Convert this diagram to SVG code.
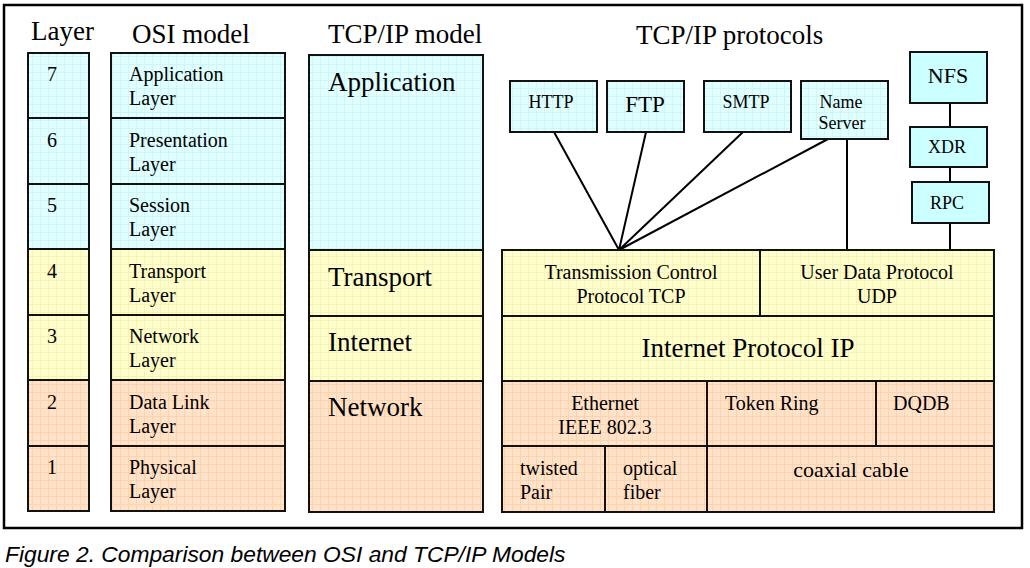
<svg xmlns="http://www.w3.org/2000/svg" width="1030" height="568" viewBox="0 0 1030 568">
<defs>
<pattern id="gc" patternUnits="userSpaceOnUse" width="8" height="8"><path d="M0 0H8V8H0Z" fill="#e0ffff"/><path d="M0 0.5H8M0.5 0V8" stroke="#cff5fa" stroke-width="1"/></pattern>
<pattern id="gy" patternUnits="userSpaceOnUse" width="8" height="8"><path d="M0 0H8V8H0Z" fill="#ffffcc"/><path d="M0 0.5H8M0.5 0V8" stroke="#f7f2b8" stroke-width="1"/></pattern>
<pattern id="gp" patternUnits="userSpaceOnUse" width="8" height="8"><path d="M0 0H8V8H0Z" fill="#ffe2c8"/><path d="M0 0.5H8M0.5 0V8" stroke="#fcd3ae" stroke-width="1"/></pattern>
</defs>
<style>
.box{stroke:#111;stroke-width:2}
.c{fill:url(#gc)}.y{fill:url(#gy)}.p{fill:url(#gp)}.s{fill:#ccffff}
text{font-family:"Liberation Serif","Times New Roman",serif;fill:#000}
.h{font-size:27px}.m{font-size:20px}.b{font-size:27px}.k{font-size:18px}
.mid{text-anchor:middle}
.cap{font-family:"Liberation Sans",Arial,sans-serif;font-style:italic;font-size:22.8px}
#frame{fill:none;stroke:#000;stroke-width:2.5}
.ln{stroke:#000;stroke-width:2;fill:none}
</style>
<rect id="frame" x="4" y="5" width="1018" height="523"/>
<g id="headings">
<text class="h" x="31" y="40">Layer</text>
<text class="h" x="132" y="43">OSI model</text>
<text class="h" x="328" y="43">TCP/IP model</text>
<text class="h" x="636" y="44">TCP/IP protocols</text>
</g>
<g id="layer-col">
<g id="L7"><rect class="box c" x="28" y="53" width="61" height="65"/><text class="m" x="47" y="81">7</text></g>
<g id="L6"><rect class="box c" x="28" y="118" width="61" height="66"/><text class="m" x="47" y="147">6</text></g>
<g id="L5"><rect class="box c" x="28" y="184" width="61" height="65"/><text class="m" x="47" y="212">5</text></g>
<g id="L4"><rect class="box y" x="28" y="249" width="61" height="66"/><text class="m" x="47" y="278">4</text></g>
<g id="L3"><rect class="box y" x="28" y="315" width="61" height="65"/><text class="m" x="47" y="343">3</text></g>
<g id="L2"><rect class="box p" x="28" y="380" width="61" height="66"/><text class="m" x="47" y="409">2</text></g>
<g id="L1"><rect class="box p" x="28" y="446" width="61" height="65"/><text class="m" x="47" y="474">1</text></g>
</g>
<g id="osi-col">
<g id="osi7"><rect class="box c" x="111" y="53" width="174" height="65"/><text class="m" x="129" y="81">Application</text><text class="m" x="129" y="105">Layer</text></g>
<g id="osi6"><rect class="box c" x="111" y="118" width="174" height="66"/><text class="m" x="129" y="147">Presentation</text><text class="m" x="129" y="171">Layer</text></g>
<g id="osi5"><rect class="box c" x="111" y="184" width="174" height="65"/><text class="m" x="129" y="212">Session</text><text class="m" x="129" y="236">Layer</text></g>
<g id="osi4"><rect class="box y" x="111" y="249" width="174" height="66"/><text class="m" x="129" y="278">Transport</text><text class="m" x="129" y="302">Layer</text></g>
<g id="osi3"><rect class="box y" x="111" y="315" width="174" height="65"/><text class="m" x="129" y="343">Network</text><text class="m" x="129" y="367">Layer</text></g>
<g id="osi2"><rect class="box p" x="111" y="380" width="174" height="66"/><text class="m" x="129" y="409">Data Link</text><text class="m" x="129" y="433">Layer</text></g>
<g id="osi1"><rect class="box p" x="111" y="446" width="174" height="65"/><text class="m" x="129" y="474">Physical</text><text class="m" x="129" y="498">Layer</text></g>
</g>
<g id="tcpip-col">
<g id="t-app"><rect class="box c" x="309" y="55" width="174" height="195"/><text class="b" x="328" y="91">Application</text></g>
<g id="t-trans"><rect class="box y" x="309" y="250" width="174" height="66"/><text class="b" x="328" y="286">Transport</text></g>
<g id="t-inet"><rect class="box y" x="309" y="316" width="174" height="65"/><text class="b" x="328" y="351">Internet</text></g>
<g id="t-net"><rect class="box p" x="309" y="381" width="174" height="131"/><text class="b" x="328" y="416">Network</text></g>
</g>
<g id="connectors">
<path class="ln" d="M554 132L619 250M646 132L619 250M743 132L619 250M828 139L619 250M847 139V250M950 103V127M950 167V182M950 223V250"/>
</g>
<g id="HTTP"><rect class="box c" x="510" y="81" width="87" height="51"/><text class="k mid" x="551" y="108">HTTP</text></g>
<g id="FTP"><rect class="box c" x="607" y="81" width="77" height="51"/><text class="mid" style="font-size:23px" x="645" y="112">FTP</text></g>
<g id="SMTP"><rect class="box c" x="704" y="81" width="87" height="51"/><text class="k mid" x="746" y="108">SMTP</text></g>
<g id="NameServer"><rect class="box c" x="801" y="81" width="87" height="58"/><text class="k mid" x="841" y="108">Name</text><text class="k mid" x="842" y="129">Server</text></g>
<g id="NFS"><rect class="box s" x="910" y="52" width="77" height="51"/><text class="mid" style="font-size:22px" x="948" y="83">NFS</text></g>
<g id="XDR"><rect class="box s" x="910" y="127" width="77" height="40"/><text class="k mid" x="947" y="153">XDR</text></g>
<g id="RPC"><rect class="box s" x="912" y="182" width="77" height="41"/><text class="k mid" x="947" y="209">RPC</text></g>
<g id="TCP"><rect class="box y" x="502" y="250" width="258" height="66"/><text class="m mid" x="631" y="279">Transmission Control</text><text class="m mid" x="631" y="303">Protocol TCP</text></g>
<g id="UDP"><rect class="box y" x="760" y="250" width="234" height="66"/><text class="m mid" x="877" y="279">User Data Protocol</text><text class="m mid" x="877" y="303">UDP</text></g>
<g id="IP"><rect class="box y" x="502" y="316" width="492" height="65"/><text class="b mid" x="748" y="357">Internet Protocol IP</text></g>
<g id="Ethernet"><rect class="box p" x="502" y="381" width="205" height="65"/><text class="m mid" x="605" y="410">Ethernet</text><text class="m mid" x="605" y="434">IEEE 802.3</text></g>
<g id="TokenRing"><rect class="box p" x="707" y="381" width="169" height="65"/><text class="m" x="725" y="410">Token Ring</text></g>
<g id="DQDB"><rect class="box p" x="876" y="381" width="118" height="65"/><text class="m" x="893" y="410">DQDB</text></g>
<g id="twisted"><rect class="box p" x="502" y="446" width="103" height="66"/><text class="m" x="520" y="475">twisted</text><text class="m" x="520" y="499">Pair</text></g>
<g id="optical"><rect class="box p" x="605" y="446" width="102" height="66"/><text class="m" x="623" y="475">optical</text><text class="m" x="623" y="499">fiber</text></g>
<g id="coaxial"><rect class="box p" x="707" y="446" width="287" height="66"/><text class="mid" style="font-size:22px" x="851" y="477">coaxial cable</text></g>
<text class="cap" x="5" y="562">Figure 2. Comparison between OSI and TCP/IP Models</text>
</svg>
